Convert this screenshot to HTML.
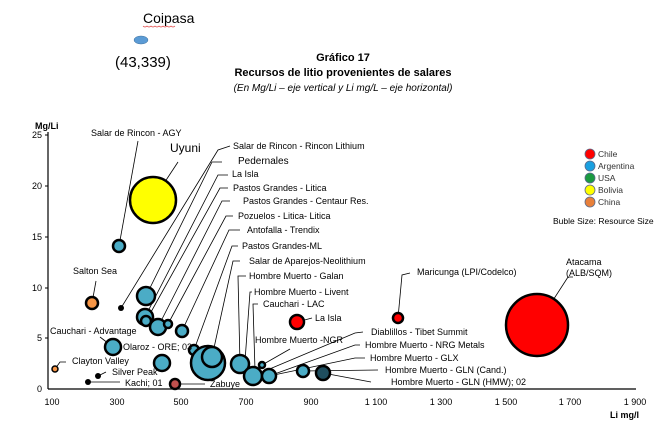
<!DOCTYPE html>
<html><head><meta charset="utf-8"><style>
html,body{margin:0;padding:0;background:#fff;}
svg{display:block;font-family:"Liberation Sans",sans-serif;}
</style></head><body>
<svg width="655" height="426" viewBox="0 0 655 426" xmlns="http://www.w3.org/2000/svg">
<rect width="655" height="426" fill="#fff"/>
<text x="143" y="23" font-size="14">Coipasa</text>
<path d="M143 26 q2 2 4 0 q2 2 4 0 q2 2 4 0 q2 2 4 0 q2 2 4 0 q2 2 4 0 q2 2 4 0 q2 2 4 0" stroke="#e04040" stroke-width="0.6" fill="none"/>
<ellipse cx="141" cy="40" rx="7" ry="4" fill="#5b9bd5" stroke="#41719c" stroke-width="0.5"/>
<text x="115" y="67" font-size="15">(43,339)</text>
<text x="343" y="61" font-size="11" font-weight="bold" text-anchor="middle">Gráfico 17</text>
<text x="343" y="76" font-size="11" font-weight="bold" text-anchor="middle">Recursos de litio provenientes de salares</text>
<text x="343" y="91" font-size="10" font-style="italic" text-anchor="middle">(En Mg/Li – eje vertical y Li mg/L – eje horizontal)</text>
<text x="35" y="129" font-size="9" font-weight="bold">Mg/Li</text>
<line x1="48" y1="132" x2="48" y2="389" stroke="#000" stroke-width="1.2"/>
<line x1="48" y1="389" x2="636" y2="389" stroke="#000" stroke-width="1.2"/>
<g font-size="9" text-anchor="end">
<text x="42" y="138">25</text><text x="42" y="189">20</text><text x="42" y="240">15</text>
<text x="42" y="291">10</text><text x="42" y="341">5</text><text x="42" y="392">0</text>
</g>
<g stroke="#000" stroke-width="1">
<line x1="45" y1="135" x2="48" y2="135"/><line x1="45" y1="186" x2="48" y2="186"/><line x1="45" y1="237" x2="48" y2="237"/><line x1="45" y1="288" x2="48" y2="288"/><line x1="45" y1="338" x2="48" y2="338"/>
</g>
<g font-size="9" text-anchor="middle">
<text x="52" y="405">100</text><text x="117" y="405">300</text><text x="181" y="405">500</text><text x="246" y="405">700</text><text x="311" y="405">900</text>
<text x="376" y="405">1 100</text><text x="441" y="405">1 300</text><text x="506" y="405">1 500</text><text x="570" y="405">1 700</text><text x="635" y="405">1 900</text>
</g>
<text x="610" y="418" font-size="9" font-weight="bold">Li mg/l</text>
<g stroke="#000" stroke-width="0.8" fill="none">
<polyline points="119,246 138,141"/>
<polyline points="153,200 178,162"/>
<polyline points="121,308 218,150 230,146"/>
<polyline points="146,296 212,162 222,162"/>
<polyline points="145,317 218,175 228,175"/>
<polyline points="146,321 220,188 228,188"/>
<polyline points="158,327 222,201 230,201"/>
<polyline points="168,324 226,216 233,216"/>
<polyline points="182,331 229,230 240,230"/>
<polyline points="194,350 232,246 238,246"/>
<polyline points="212,357 233,261 240,261"/>
<polyline points="240,364 238,276 246,276"/>
<polyline points="245,361 250,292 252,292"/>
<polyline points="255,370 253,304 258,304"/>
<polyline points="297,322 312,318"/>
<polyline points="262,365 290,349"/>
<polyline points="253,376 355,333 363,332"/>
<polyline points="269,376 355,345 360,345"/>
<polyline points="269,376 355,358 365,358"/>
<polyline points="303,371 378,370"/>
<polyline points="323,373 371,382"/>
<polyline points="113,347 100,337"/>
<polyline points="92,303 96,281"/>
<polyline points="55,369 60,362 66,362"/>
<polyline points="98,376 106,372"/>
<polyline points="88,382 120,382"/>
<polyline points="175,384 205,384"/>
<polyline points="398,318 402,275 410,273"/>
<polyline points="537,325 568,277 573,277"/>
</g>
<g stroke="#000" stroke-width="2.5">
<circle cx="153" cy="200" r="23" fill="#ffff00"/>
<circle cx="537" cy="325" r="31" fill="#ff0000"/>
<circle cx="119" cy="246" r="6" fill="#4bacc6"/>
<circle cx="92" cy="303" r="6" fill="#f79646"/>
<circle cx="146" cy="296" r="9" fill="#4bacc6"/>
<circle cx="145" cy="317" r="8" fill="#4bacc6"/>
<circle cx="146" cy="321" r="5" fill="#4bacc6"/>
<circle cx="158" cy="327" r="8" fill="#4bacc6"/>
<circle cx="168" cy="324" r="4" fill="#4bacc6"/>
<circle cx="182" cy="331" r="6" fill="#4bacc6"/>
<circle cx="113" cy="347" r="8" fill="#4bacc6"/>
<circle cx="194" cy="350" r="5" fill="#4bacc6"/>
<circle cx="208" cy="363" r="17" fill="#4bacc6"/>
<circle cx="212" cy="357" r="10" fill="#4bacc6"/>
<circle cx="162" cy="363" r="8" fill="#4bacc6"/>
<circle cx="240" cy="364" r="9" fill="#4bacc6"/>
<circle cx="253" cy="376" r="9" fill="#4bacc6"/>
<circle cx="262" cy="365" r="3" fill="#4bacc6"/>
<circle cx="269" cy="376" r="7" fill="#4bacc6"/>
<circle cx="303" cy="371" r="6" fill="#4bacc6"/>
<circle cx="323" cy="373" r="7" fill="#1f4e5f"/>
<circle cx="297" cy="322" r="7" fill="#ff0000"/>
<circle cx="398" cy="318" r="5" fill="#ff0000"/>
<circle cx="55" cy="369" r="3" fill="#f79646" stroke-width="1.5"/>
<circle cx="175" cy="384" r="5" fill="#c0504d"/>
</g>
<g fill="#000"><circle cx="121" cy="308" r="3"/><circle cx="98" cy="376" r="3"/><circle cx="88" cy="382" r="3"/></g>
<g font-size="9">
<text x="91" y="136">Salar de Rincon - AGY</text>
<text x="170" y="152" font-size="12">Uyuni</text>
<text x="233" y="149">Salar de Rincon - Rincon Lithium</text>
<text x="238" y="164" font-size="10">Pedernales</text>
<text x="232" y="177">La Isla</text>
<text x="233" y="191">Pastos Grandes  - Litica</text>
<text x="243" y="204">Pastos Grandes - Centaur Res.</text>
<text x="238" y="219">Pozuelos  - Litica- Litica</text>
<text x="247" y="233">Antofalla - Trendix</text>
<text x="242" y="249">Pastos Grandes-ML</text>
<text x="249" y="264">Salar de Aparejos-Neolithium</text>
<text x="249" y="279">Hombre Muerto - Galan</text>
<text x="254" y="295">Hombre Muerto - Livent</text>
<text x="263" y="307">Cauchari - LAC</text>
<text x="315" y="321">La Isla</text>
<text x="255" y="343">Hombre Muerto -NGR</text>
<text x="50" y="334">Cauchari - Advantage</text>
<text x="123" y="350">Olaroz - ORE; 03</text>
<text x="72" y="364">Clayton Valley</text>
<text x="112" y="375">Silver Peak</text>
<text x="125" y="386">Kachi; 01</text>
<text x="210" y="387">Zabuye</text>
<text x="73" y="274">Salton Sea</text>
<text x="417" y="275">Maricunga (LPI/Codelco)</text>
<text x="566" y="265">Atacama</text>
<text x="566" y="276">(ALB/SQM)</text>
<text x="371" y="335">Diablillos - Tibet Summit</text>
<text x="365" y="348">Hombre Muerto - NRG Metals</text>
<text x="370" y="361">Hombre Muerto - GLX</text>
<text x="385" y="373">Hombre Muerto - GLN (Cand.)</text>
<text x="391" y="385">Hombre Muerto - GLN (HMW); 02</text>
</g>
<g stroke="#5a6a8a" stroke-width="0.8">
<circle cx="590" cy="154" r="5" fill="#ff0000"/>
<circle cx="590" cy="166" r="5" fill="#1aa0e0"/>
<circle cx="590" cy="178" r="5" fill="#1a9a40"/>
<circle cx="590" cy="190" r="5" fill="#ffff00"/>
<circle cx="590" cy="202" r="5" fill="#e8803a"/>
</g>
<g font-size="8.5" fill="#333">
<text x="598" y="157">Chile</text><text x="598" y="169">Argentina</text><text x="598" y="181">USA</text><text x="598" y="193">Bolivia</text><text x="598" y="205">China</text>
</g>
<text x="553" y="224" font-size="8.5">Buble Size: Resource Size</text>
</svg>
</body></html>
